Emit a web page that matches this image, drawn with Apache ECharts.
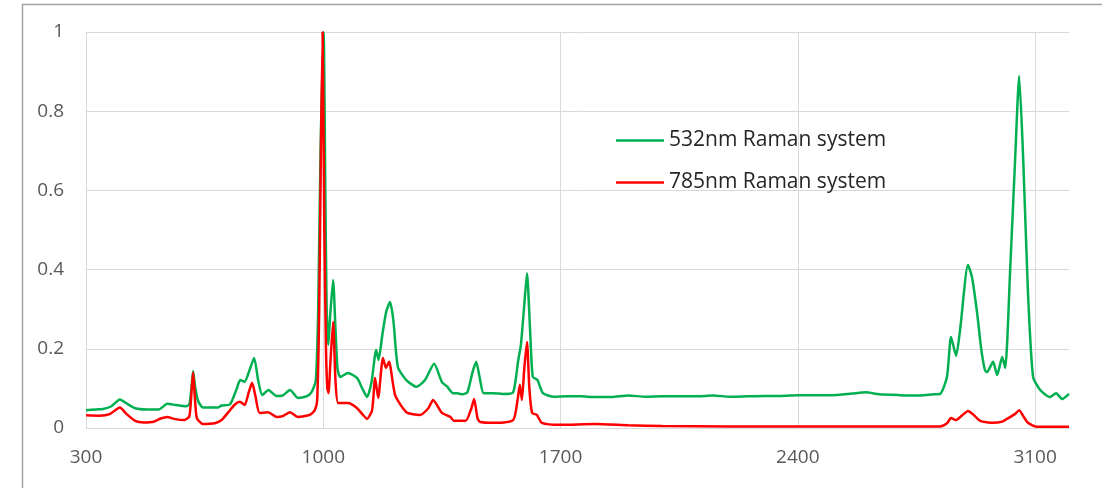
<!DOCTYPE html>
<html>
<head>
<meta charset="utf-8">
<script src="https://cdn.jsdelivr.net/npm/echarts@6/dist/echarts.min.js"></script>
<style>
  html, body { margin: 0; padding: 0; background: #fff; }
  #chart { width: 1102px; height: 488px; }
</style>
</head>
<body>
<div id="chart"></div>
<script>
// Raman shift (cm-1) and normalised intensity, 532 nm excitation
const shift532 = [300,330,350,375,400,420,445,480,515,540,565,595,605,612,616,621,630,645,690,700,725,745,755,768,782,796,808,820,838,862,880,902,925,950,965,978,985,992,1001,1006,1010,1015,1020,1029,1036,1042,1050,1073,1100,1115,1129,1142,1156,1163,1175,1186,1197,1207,1220,1245,1275,1300,1327,1350,1365,1383,1395,1410,1425,1440,1451,1463,1473,1500,1530,1560,1575,1583,1592,1601,1610,1618,1632,1648,1680,1720,1760,1800,1850,1900,1950,2000,2050,2100,2150,2200,2250,2300,2350,2400,2450,2500,2560,2600,2640,2700,2760,2800,2820,2840,2852,2867,2879,2902,2914,2929,2941,2952,2958,2976,2988,3003,3012,3026,3041,3053,3065,3079,3094,3115,3144,3162,3180,3200];
const counts532 = [0.045,0.047,0.048,0.055,0.072,0.062,0.050,0.047,0.047,0.061,0.058,0.055,0.060,0.110,0.143,0.110,0.070,0.052,0.052,0.057,0.060,0.100,0.121,0.117,0.145,0.177,0.120,0.083,0.096,0.081,0.082,0.096,0.076,0.080,0.090,0.120,0.300,0.700,1.000,0.600,0.300,0.210,0.280,0.374,0.250,0.150,0.129,0.139,0.126,0.100,0.078,0.114,0.197,0.172,0.240,0.295,0.318,0.270,0.154,0.121,0.104,0.121,0.162,0.116,0.105,0.088,0.088,0.085,0.090,0.140,0.167,0.120,0.088,0.088,0.086,0.090,0.170,0.210,0.300,0.391,0.250,0.129,0.121,0.088,0.079,0.080,0.080,0.078,0.078,0.082,0.079,0.080,0.080,0.080,0.082,0.079,0.080,0.081,0.081,0.083,0.083,0.083,0.087,0.090,0.085,0.083,0.082,0.085,0.086,0.129,0.230,0.182,0.250,0.412,0.380,0.290,0.200,0.146,0.141,0.167,0.134,0.179,0.152,0.391,0.677,0.889,0.677,0.341,0.129,0.096,0.078,0.088,0.073,0.086];

// Raman shift (cm-1) and normalised intensity, 785 nm excitation
const shift785 = [300,340,370,400,420,445,470,500,520,540,560,590,605,612,616,621,627,645,680,700,720,740,754,768,780,790,800,812,837,862,880,902,925,960,975,982,988,993,998,1003,1008,1012,1016,1020,1029,1036,1044,1073,1100,1115,1129,1144,1153,1162,1176,1185,1194,1212,1245,1285,1310,1324,1350,1375,1385,1420,1437,1445,1455,1463,1500,1560,1573,1580,1586,1593,1601,1608,1616,1630,1645,1700,1800,1900,2000,2200,2400,2600,2820,2840,2852,2867,2885,2902,2916,2938,2976,3003,3015,3040,3053,3065,3079,3106,3200];
const counts785 = [0.032,0.031,0.035,0.052,0.035,0.018,0.014,0.016,0.024,0.028,0.023,0.020,0.030,0.100,0.140,0.080,0.025,0.010,0.012,0.020,0.040,0.060,0.066,0.058,0.090,0.114,0.080,0.038,0.040,0.028,0.030,0.040,0.028,0.033,0.045,0.070,0.300,0.700,1.000,0.500,0.200,0.100,0.088,0.150,0.268,0.120,0.063,0.063,0.050,0.035,0.023,0.045,0.126,0.076,0.177,0.152,0.167,0.083,0.040,0.033,0.050,0.071,0.038,0.028,0.018,0.018,0.050,0.073,0.025,0.015,0.013,0.020,0.070,0.109,0.071,0.150,0.217,0.100,0.038,0.033,0.013,0.008,0.010,0.007,0.005,0.004,0.004,0.004,0.004,0.012,0.025,0.020,0.032,0.043,0.035,0.018,0.013,0.016,0.022,0.035,0.045,0.030,0.013,0.003,0.003];

const xTicks = [300, 1000, 1700, 2400, 3100];
const seriesNames = ['532nm Raman system', '785nm Raman system'];

const FONT = '"Open Sans", sans-serif';
const zip = (xs, ys) => xs.map((x, i) => [x, ys[i]]);

const chart = echarts.init(document.getElementById('chart'), null, { renderer: 'canvas' });
chart.setOption({
  animation: false,
  backgroundColor: '#ffffff',
  graphic: [{
    type: 'rect',
    silent: true,
    shape: { x: 22.5, y: 4.5, width: 1200, height: 600 },
    style: { fill: 'none', stroke: '#a3a3a3', lineWidth: 1.5 }
  }],
  grid: { left: 86, right: 33, top: 32, bottom: 60, containLabel: false },
  legend: {
    orient: 'vertical',
    left: 616,
    top: 130,
    padding: 0,
    itemWidth: 48,
    itemHeight: 2.5,
    itemGap: 21,
    icon: 'rect',
    textStyle: { fontFamily: FONT, fontSize: 21, lineHeight: 21, color: '#262626' },
    data: seriesNames
  },
  xAxis: {
    type: 'value',
    min: 300,
    max: 3200,
    axisLine: { show: true, lineStyle: { color: '#d9d9d9', width: 1 } },
    axisTick: { show: false, customValues: xTicks },
    axisLabel: {
      customValues: xTicks,
      formatter: (v) => String(v),
      color: '#595959', fontFamily: FONT, fontSize: 19, margin: 20
    },
    splitLine: { show: true, lineStyle: { color: '#d9d9d9', width: 1 } }
  },
  yAxis: {
    type: 'value',
    min: 0,
    max: 1,
    interval: 0.2,
    axisLine: { show: true, lineStyle: { color: '#d9d9d9', width: 1 } },
    axisTick: { show: false },
    axisLabel: { color: '#595959', fontFamily: FONT, fontSize: 19, margin: 22 },
    splitLine: { show: true, lineStyle: { color: '#d9d9d9', width: 1 } }
  },
  series: [
    {
      name: seriesNames[0],
      type: 'line',
      showSymbol: false,
      symbol: 'none',
      smooth: 0.2,
      color: '#00b050',
      lineStyle: { color: '#00b050', width: 2.5 },
      data: zip(shift532, counts532)
    },
    {
      name: seriesNames[1],
      type: 'line',
      showSymbol: false,
      symbol: 'none',
      smooth: 0.2,
      color: '#ff0000',
      lineStyle: { color: '#ff0000', width: 2.5 },
      data: zip(shift785, counts785)
    }
  ]
});
</script>
</body>
</html>
